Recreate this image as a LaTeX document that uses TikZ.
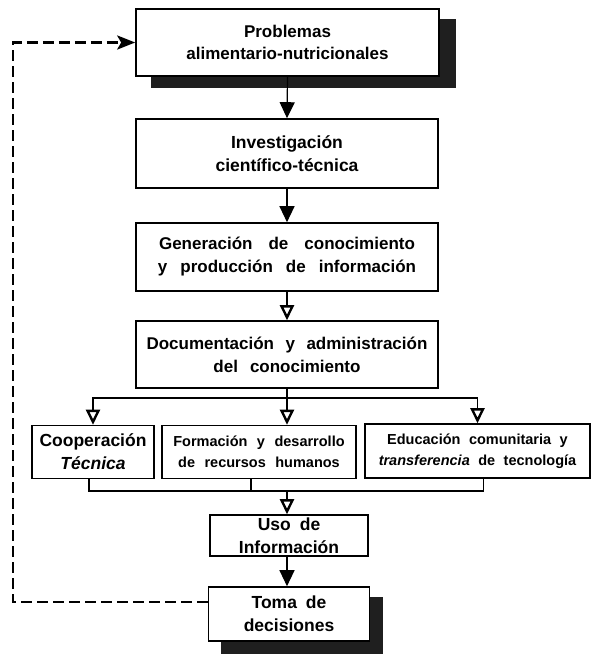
\documentclass[tikz,border=0pt]{standalone}
\usepackage{fontspec}
\setmainfont{Liberation Sans}
\newcommand\gp[1]{\hspace{#1pt}}
\usetikzlibrary{arrows.meta,backgrounds}
\begin{document}
\begin{tikzpicture}[x=1pt,y=-1pt,
  box/.style={draw, line width=1.6pt, fill=white, align=center, inner sep=0pt},
  fA/.style={font=\bfseries\fontsize{17}{22}\selectfont},
  fB/.style={font=\bfseries\fontsize{17}{23}\selectfont},
  fC/.style={font=\bfseries\fontsize{14.5}{21}\selectfont},
  fD/.style={font=\bfseries\fontsize{17.5}{23}\selectfont},
  conn/.style={line width=1.2pt},
  solidtip/.style={-{Triangle[length=16pt,width=15pt]}},
  opentip/.style={-{Triangle[open,length=15pt,width=14pt,line width=2.4pt]}},
  shade/.style={fill=black!88},
  fb/.style={line width=2.8pt, dash pattern=on 11pt off 5pt, -{Stealth[length=18pt,width=14pt,inset=4pt]}}
]
\useasboundingbox (0,0) rectangle (592,654);

% boxes
\node[box, fA, minimum width=303pt, minimum height=67pt] (b1) at (287.5,42.5) {Problemas\\alimentario-nutricionales};
\node[box, fD, minimum width=302pt, minimum height=69pt] (b2) at (287,153.5) {Investigación\\científico-técnica};
\node[box, fB, minimum width=302pt, minimum height=68pt] (b3) at (287,257) {Generación\gp{16}de\gp{16}conocimiento\\y\gp{13}producción\gp{13}de\gp{13}información};
\node[box, fB, minimum width=302pt, minimum height=67pt] (b4) at (287,354.5) {Documentación\gp{11.5}y\gp{11.5}administración\\del\gp{12}conocimiento};
\node[box, fD, minimum width=122pt, minimum height=53pt] (coop) at (93,452) {Cooperación\\\itshape Técnica};
\node[box, fC, minimum width=194pt, minimum height=53pt] (form) at (259,452) {Formación\gp{9.5}y\gp{9.5}desarrollo\\de\gp{9.5}recursos\gp{9.5}humanos};
\node[box, fC, minimum width=225pt, minimum height=54pt] (edu) at (477.5,451) {Educación\gp{8.5}comunitaria\gp{8.5}y\\{\itshape transferencia}\gp{8.5}de\gp{8.5}tecnología};
\node[box, fD, minimum width=158pt, minimum height=41pt] (uso) at (289,535.5) {Uso\gp{9}de\\Información};
\node[box, fD, minimum width=161pt, minimum height=54pt] (toma) at (289,614) {Toma\gp{9}de\\decisiones};

% shadows
\begin{scope}[on background layer]
\fill[shade] ([xshift=16pt,yshift=-11pt]b1.north west) rectangle ([xshift=16pt,yshift=-11pt]b1.south east);
\fill[shade] ([xshift=13pt,yshift=-11pt]toma.north west) rectangle ([xshift=13pt,yshift=-13pt]toma.south east);
\end{scope}

% main chain
\draw[conn, solidtip] (b1.south) -- (b2.north);
\draw[conn, solidtip] (b2.south) -- (b3.north);
\draw[conn, opentip] (b3.south) -- (b4.north);

% distribution
\coordinate (dist) at (287,398);
\draw[conn] (b4.south) -- (dist);
\draw[conn, opentip] (dist) -| (coop.north);
\draw[conn, opentip] (dist) -- (dist |- form.north);
\draw[conn, opentip] (dist) -| (edu.north);

% collector
\coordinate (col) at (287,491);
\draw[conn] ([xshift=-4pt]coop.south) |- (col);
\draw[conn] ([xshift=-8pt]form.south) |- (col);
\draw[conn] ([xshift=6pt]edu.south) |- (col);
\draw[conn, opentip] (col) -- (col |- uso.north);
\draw[conn, solidtip] (uso.south -| col) -- (col |- toma.north);

% feedback
\coordinate (dl) at (13,602);
\coordinate (dt) at (13,42.5);
\draw[fb] ([yshift=12pt]toma.west) -- (dl) -- (dt) -- (b1.west);
\end{tikzpicture}
\end{document}
